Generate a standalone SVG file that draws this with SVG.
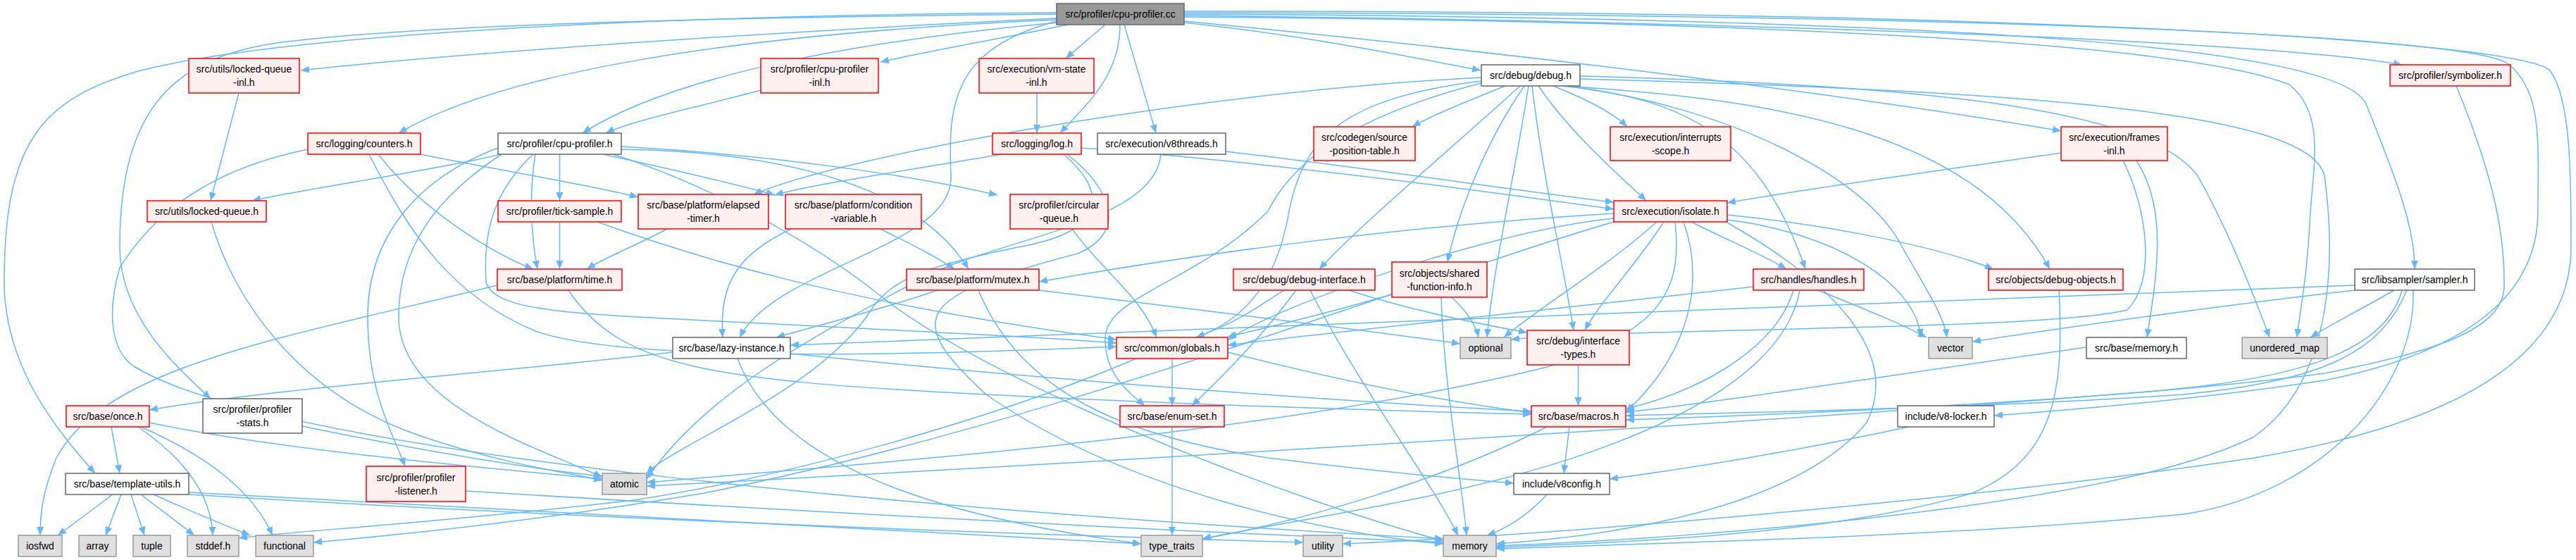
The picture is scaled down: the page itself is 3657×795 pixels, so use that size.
<svg xmlns="http://www.w3.org/2000/svg" width="3657" height="795" viewBox="0 0 3657 795">
<style>
.e{fill:none;stroke:#63b8ff;stroke-width:1.5;marker-end:url(#a)}
.r{fill:#fff0f0;stroke:#ff0000;stroke-width:1.5}
.w{fill:#ffffff;stroke:#666666;stroke-width:1.5}
.g{fill:#e0e0e0;stroke:#999999;stroke-width:1.5}
.k{fill:#999999;stroke:#666666;stroke-width:1.5}
text{font-family:"Liberation Sans",Arial,sans-serif;font-size:14px;fill:#000;text-anchor:middle}
</style>
<defs>
<marker id="a" markerWidth="12" markerHeight="10" refX="12" refY="5" orient="auto" markerUnits="userSpaceOnUse"><path d="M0,0 L12,5 L0,10 z" fill="#63b8ff"/></marker>
</defs>
<rect width="3657" height="795" fill="#ffffff"/>
<g id="edges">
<path class="e" d="M1500,26 C1200,40 700,70 427,100"/>
<path class="e" d="M1500,28 C1000,50 700,110 566,189"/>
<path class="e" d="M1502,32 C1200,60 950,110 827,189"/>
<path class="e" d="M1516,35 C1420,55 1320,72 1250,88"/>
<path class="e" d="M1569,35 L1513,83"/>
<path class="e" d="M1590,35 C1590,110 1540,150 1505,189"/>
<path class="e" d="M1596,35 L1641,189"/>
<path class="e" d="M1681,32 C1850,50 2000,80 2102,100"/>
<path class="e" d="M1681,30 C2100,70 2600,130 2926,186"/>
<path class="e" d="M1681,22 C2400,30 3200,55 3410,92"/>
<path class="e" d="M1681,20 C2700,25 3330,60 3360,150 C3400,250 3428,320 3428,382"/>
<path class="e" d="M1500,20 C1000,25 600,35 400,60 C250,80 170,150 170,350 C170,450 250,520 299,566"/>
<path class="e" d="M1500,18 C900,22 400,50 200,100 C60,140 6,200 6,400 C6,520 80,610 135,672"/>
<path class="e" d="M1500,30 C1350,70 1346,150 1350,250 C1355,350 1100,380 1050,479"/>
<path class="e" d="M1681,24 C2500,30 3100,60 3250,120 C3300,160 3285,230 3280,300 C3275,400 3265,440 3261,479"/>
<path class="e" d="M1681,18 C2800,20 3500,50 3560,90 C3610,130 3603,200 3603,300 C3603,420 3500,500 3300,540 C3100,570 2900,585 2831,590"/>
<path class="e" d="M1681,16 C2900,15 3580,60 3620,100 C3650,140 3650,250 3650,350 C3650,500 3500,600 3200,650 C2800,710 2200,760 1906,772"/>
<path class="e" d="M1080,128 C1000,150 900,170 860,189"/>
<path class="e" d="M1472,132 L1472,189"/>
<path class="e" d="M597,219 C700,240 850,265 906,280"/>
<path class="e" d="M537,219 C600,300 700,360 757,382"/>
<path class="e" d="M524,219 C580,330 640,420 760,470 C900,520 1400,500 1585,492"/>
<path class="e" d="M437,212 C300,240 220,300 170,380 C150,450 160,500 190,520 C400,650 1400,730 2049,765"/>
<path class="e" d="M707,210 C600,250 522,330 522,450 C522,560 560,620 575,662"/>
<path class="e" d="M707,220 C600,245 420,270 358,285"/>
<path class="e" d="M712,219 C620,280 566,350 566,450 C566,580 780,640 855,678"/>
<path class="e" d="M757,219 C690,280 687,350 690,400 C700,440 800,445 1000,455 C1300,470 1500,480 1585,487"/>
<path class="e" d="M760,219 C750,280 755,340 763,382"/>
<path class="e" d="M794.5,219 L794.5,285"/>
<path class="e" d="M857,219 C950,240 1050,262 1100,277"/>
<path class="e" d="M882,208 C1100,220 1300,250 1416,277"/>
<path class="e" d="M882,212 C1100,215 1300,260 1375,382"/>
<path class="e" d="M870,219 C1000,260 1150,340 1250,420 C1400,540 1800,700 2049,768"/>
<path class="e" d="M1422,219 C1300,240 1150,262 1100,277"/>
<path class="e" d="M1535,210 C1800,230 2100,270 2291,297"/>
<path class="e" d="M1510,219 C1580,280 1560,330 1450,350 C1300,380 1260,400 1230,450 C1150,560 960,630 918,672"/>
<path class="e" d="M1515,219 C1580,270 1600,330 1530,360 C1300,420 1280,450 1400,560 C1600,700 1900,760 2049,772"/>
<path class="e" d="M1740,215 C1950,240 2150,270 2291,287"/>
<path class="e" d="M1648,219 C1640,320 1400,340 1300,400 C1150,480 1000,560 918,680"/>
<path class="e" d="M339,132 L299,285"/>
<path class="e" d="M300,315 C330,420 420,560 600,620 C720,660 800,670 855,682"/>
<path class="e" d="M794.5,315 L794.5,382"/>
<path class="e" d="M848,315 C1000,370 1200,430 1585,482"/>
<path class="e" d="M947,325 C900,350 860,365 833,382"/>
<path class="e" d="M1123,325 C1050,360 1020,400 1026,479"/>
<path class="e" d="M1250,325 C1300,350 1330,365 1355,382"/>
<path class="e" d="M1522,325 C1560,380 1620,420 1642,479"/>
<path class="e" d="M706,405 C400,480 150,520 80,650 C60,700 57,730 57,760"/>
<path class="e" d="M807,412 C880,520 1000,540 1400,560 C1800,580 2050,585 2174,588"/>
<path class="e" d="M1331,412 C1250,440 1150,465 1102,479"/>
<path class="e" d="M1475,412 C1700,440 1950,470 2073,488"/>
<path class="e" d="M1389,412 C1450,560 1600,620 1800,650 C2000,675 2100,682 2149,686"/>
<path class="e" d="M2291,303 C2000,320 1700,360 1475,400"/>
<path class="e" d="M2291,310 C2100,330 1800,440 1743,483"/>
<path class="e" d="M2352,315 C2280,380 2180,440 2135,479"/>
<path class="e" d="M2362,315 C2320,380 2270,430 2250,469"/>
<path class="e" d="M2390,315 C2420,400 2400,500 2308,585"/>
<path class="e" d="M2378,315 C2390,420 2350,470 2200,520 C1800,620 1200,660 918,685"/>
<path class="e" d="M2401,315 C2450,340 2500,360 2536,382"/>
<path class="e" d="M2452,305 C2600,320 2750,350 2830,382"/>
<path class="e" d="M2452,312 C2600,330 2720,400 2727,479"/>
<path class="e" d="M2452,316 C2600,400 2700,500 2650,600 C2550,720 2300,760 2124,772"/>
<path class="e" d="M2291,315 C2000,400 1500,600 1000,700 C700,750 500,765 445,770"/>
<path class="e" d="M2103,110 C1700,130 1200,220 1070,276"/>
<path class="e" d="M2103,115 C1900,140 1850,200 1830,300 C1810,420 1750,460 1698,479"/>
<path class="e" d="M2103,118 C1900,170 1830,240 1800,300 C1700,400 1570,420 1569,480 C1568,530 1600,555 1625,576"/>
<path class="e" d="M2137,122 C2080,145 2030,165 2005,180"/>
<path class="e" d="M2158,122 C2050,220 1930,320 1873,382"/>
<path class="e" d="M2164,122 C2110,200 2070,300 2055,372"/>
<path class="e" d="M2170,122 C2150,250 2120,380 2111,479"/>
<path class="e" d="M2175,122 C2190,250 2220,380 2234,469"/>
<path class="e" d="M2184,122 C2230,190 2300,250 2337,285"/>
<path class="e" d="M2205,122 C2250,140 2290,160 2310,180"/>
<path class="e" d="M2217,122 C2400,140 2500,200 2563,382"/>
<path class="e" d="M2220,122 C2500,140 2800,180 2910,382"/>
<path class="e" d="M2222,122 C2450,150 2650,250 2700,350 C2740,420 2760,450 2764,479"/>
<path class="e" d="M2243,108 C2700,120 3050,150 3120,250 C3160,320 3200,420 3222,479"/>
<path class="e" d="M2243,112 C2900,130 3280,160 3300,250 C3320,400 3300,550 3200,620 C3000,720 2400,765 2124,775"/>
<path class="e" d="M1823,412 C1780,440 1750,460 1698,479"/>
<path class="e" d="M1840,412 C1790,480 1730,540 1692,576"/>
<path class="e" d="M1860,412 C1930,550 2030,680 2070,760"/>
<path class="e" d="M1915,412 C2000,440 2100,460 2168,472"/>
<path class="e" d="M2061,422 C2080,440 2095,460 2099,479"/>
<path class="e" d="M2046,422 C2050,550 2075,680 2082,760"/>
<path class="e" d="M1976,418 C1900,440 1800,465 1743,478"/>
<path class="e" d="M2489,407 C2200,440 1900,470 1743,490"/>
<path class="e" d="M2546,412 C2520,500 2400,560 2308,580"/>
<path class="e" d="M2555,412 C2530,550 2300,650 2000,710 C1850,740 1750,755 1707,765"/>
<path class="e" d="M2581,412 C2650,440 2700,460 2735,479"/>
<path class="e" d="M2923,412 C2930,550 2920,650 2800,700 C2600,760 2300,770 2124,777"/>
<path class="e" d="M3343,405 C2800,430 1800,460 1122,490"/>
<path class="e" d="M3343,412 C3100,440 2900,470 2800,485"/>
<path class="e" d="M3399,412 C3350,440 3310,460 3280,479"/>
<path class="e" d="M3417,412 C3380,500 3300,540 3100,560 C2800,580 2500,585 2308,590"/>
<path class="e" d="M3410,412 C3380,520 3200,545 3000,560 C2500,600 1500,660 918,690"/>
<path class="e" d="M3426,412 C3430,550 3300,700 3100,730 C2800,760 2400,770 2124,779"/>
<path class="e" d="M3487,122 C3540,250 3555,330 3555,400 C3560,470 3450,500 3300,530 C3000,570 2500,590 2308,596"/>
<path class="e" d="M2926,217 C2700,250 2550,270 2452,288"/>
<path class="e" d="M3033,228 C3080,300 3060,400 3048,479"/>
<path class="e" d="M3014,228 C3050,300 3060,400 3020,440 C2900,470 2300,465 2145,482"/>
<path class="e" d="M2962,493 C2700,530 2450,570 2308,585"/>
<path class="e" d="M2710,606 C2550,640 2400,665 2285,680"/>
<path class="e" d="M2196,702 C2170,730 2140,750 2111,760"/>
<path class="e" d="M2228,606 L2220,672"/>
<path class="e" d="M2196,606 C2050,680 1850,740 1707,765"/>
<path class="e" d="M2240.5,518 L2240.5,576"/>
<path class="e" d="M1664,509 L1664,576"/>
<path class="e" d="M1743,500 C1900,540 2050,570 2174,586"/>
<path class="e" d="M1613,509 C1400,600 1100,680 900,710 C600,745 400,755 339,764"/>
<path class="e" d="M1664,606 L1664,760"/>
<path class="e" d="M955,500 C700,530 400,550 212,582"/>
<path class="e" d="M1122,502 C1500,540 1900,570 2174,584"/>
<path class="e" d="M1047,509 C1100,650 1300,730 1620,772"/>
<path class="e" d="M158,606 L170,672"/>
<path class="e" d="M196,606 C260,650 300,700 302,760"/>
<path class="e" d="M200,606 C300,650 360,700 387,760"/>
<path class="e" d="M212,600 C400,640 700,665 855,680"/>
<path class="e" d="M429,605 C600,640 750,665 855,676"/>
<path class="e" d="M160,702 L82,760"/>
<path class="e" d="M172,702 L150,760"/>
<path class="e" d="M186,702 L205,760"/>
<path class="e" d="M200,702 L276,760"/>
<path class="e" d="M218,702 C280,730 330,750 355,760"/>
<path class="e" d="M268,699 C800,730 1300,755 1620,772"/>
<path class="e" d="M268,702 C900,740 1500,760 1850,770"/>
<path class="e" d="M661,697 C1200,730 1700,755 2049,770"/>
</g>
<g id="n_root"><rect class="k" x="1500" y="5" width="181" height="30"/><text x="1590.5" y="25">src/profiler/cpu-profiler.cc</text></g>
<g id="n_lqi"><rect class="r" x="268" y="83" width="157" height="49"/><text x="346.5" y="103">src/utils/locked-queue</text><text x="346.5" y="122">-inl.h</text></g>
<g id="n_cpi"><rect class="r" x="1080" y="83" width="167" height="49"/><text x="1163.5" y="103">src/profiler/cpu-profiler</text><text x="1163.5" y="122">-inl.h</text></g>
<g id="n_vsi"><rect class="r" x="1390" y="83" width="163" height="49"/><text x="1471.5" y="103">src/execution/vm-state</text><text x="1471.5" y="122">-inl.h</text></g>
<g id="n_dbg"><rect class="w" x="2103" y="92" width="140" height="30"/><text x="2173" y="112">src/debug/debug.h</text></g>
<g id="n_sym"><rect class="r" x="3393" y="92" width="171" height="30"/><text x="3478.5" y="112">src/profiler/symbolizer.h</text></g>
<g id="n_spt"><rect class="r" x="1865" y="180" width="144" height="48"/><text x="1937" y="199.5">src/codegen/source</text><text x="1937" y="218.5">-position-table.h</text></g>
<g id="n_isc"><rect class="r" x="2286" y="180" width="171" height="48"/><text x="2371.5" y="199.5">src/execution/interrupts</text><text x="2371.5" y="218.5">-scope.h</text></g>
<g id="n_fri"><rect class="r" x="2926" y="180" width="151" height="48"/><text x="3001.5" y="199.5">src/execution/frames</text><text x="3001.5" y="218.5">-inl.h</text></g>
<g id="n_cnt"><rect class="r" x="437" y="189" width="160" height="30"/><text x="517" y="209">src/logging/counters.h</text></g>
<g id="n_cph"><rect class="w" x="707" y="189" width="175" height="30"/><text x="794.5" y="209">src/profiler/cpu-profiler.h</text></g>
<g id="n_log"><rect class="r" x="1409" y="189" width="126" height="30"/><text x="1472" y="209">src/logging/log.h</text></g>
<g id="n_v8t"><rect class="w" x="1558" y="189" width="182" height="30"/><text x="1649" y="209">src/execution/v8threads.h</text></g>
<g id="n_lq"><rect class="r" x="209" y="285" width="169" height="30"/><text x="293.5" y="305">src/utils/locked-queue.h</text></g>
<g id="n_tick"><rect class="r" x="707" y="285" width="175" height="30"/><text x="794.5" y="305">src/profiler/tick-sample.h</text></g>
<g id="n_et"><rect class="r" x="906" y="276" width="185" height="49"/><text x="998.5" y="296">src/base/platform/elapsed</text><text x="998.5" y="315">-timer.h</text></g>
<g id="n_cv"><rect class="r" x="1115" y="276" width="193" height="49"/><text x="1211.5" y="296">src/base/platform/condition</text><text x="1211.5" y="315">-variable.h</text></g>
<g id="n_cq"><rect class="r" x="1434" y="276" width="139" height="49"/><text x="1503.5" y="296">src/profiler/circular</text><text x="1503.5" y="315">-queue.h</text></g>
<g id="n_iso"><rect class="r" x="2291" y="285" width="161" height="30"/><text x="2371.5" y="305">src/execution/isolate.h</text></g>
<g id="n_time"><rect class="r" x="706" y="382" width="177" height="30"/><text x="794.5" y="402">src/base/platform/time.h</text></g>
<g id="n_mutex"><rect class="r" x="1287" y="382" width="188" height="30"/><text x="1381" y="402">src/base/platform/mutex.h</text></g>
<g id="n_dbi"><rect class="r" x="1751" y="382" width="201" height="30"/><text x="1851.5" y="402">src/debug/debug-interface.h</text></g>
<g id="n_sfi"><rect class="r" x="1976" y="372" width="135" height="50"/><text x="2043.5" y="392.5">src/objects/shared</text><text x="2043.5" y="411.5">-function-info.h</text></g>
<g id="n_hdl"><rect class="r" x="2489" y="382" width="157" height="30"/><text x="2567.5" y="402">src/handles/handles.h</text></g>
<g id="n_dbo"><rect class="r" x="2823" y="382" width="191" height="30"/><text x="2918.5" y="402">src/objects/debug-objects.h</text></g>
<g id="n_smp"><rect class="w" x="3343" y="382" width="170" height="30"/><text x="3428" y="402">src/libsampler/sampler.h</text></g>
<g id="n_lazy"><rect class="w" x="955" y="479" width="167" height="30"/><text x="1038.5" y="499">src/base/lazy-instance.h</text></g>
<g id="n_glob"><rect class="r" x="1585" y="479" width="158" height="30"/><text x="1664" y="499">src/common/globals.h</text></g>
<g id="n_opt"><rect class="g" x="2073" y="479" width="72" height="30"/><text x="2109" y="499">optional</text></g>
<g id="n_ift"><rect class="r" x="2168" y="469" width="145" height="49"/><text x="2240.5" y="489">src/debug/interface</text><text x="2240.5" y="508">-types.h</text></g>
<g id="n_vec"><rect class="g" x="2738" y="479" width="62" height="30"/><text x="2769" y="499">vector</text></g>
<g id="n_memh"><rect class="w" x="2962" y="479" width="142" height="30"/><text x="3033" y="499">src/base/memory.h</text></g>
<g id="n_umap"><rect class="g" x="3183" y="479" width="121" height="30"/><text x="3243.5" y="499">unordered_map</text></g>
<g id="n_once"><rect class="r" x="94" y="576" width="118" height="30"/><text x="153" y="596">src/base/once.h</text></g>
<g id="n_pst"><rect class="w" x="288" y="566" width="141" height="49"/><text x="358.5" y="586">src/profiler/profiler</text><text x="358.5" y="605">-stats.h</text></g>
<g id="n_enum"><rect class="r" x="1590" y="576" width="148" height="30"/><text x="1664" y="596">src/base/enum-set.h</text></g>
<g id="n_mac"><rect class="r" x="2174" y="576" width="134" height="30"/><text x="2241" y="596">src/base/macros.h</text></g>
<g id="n_lock"><rect class="w" x="2694" y="576" width="137" height="30"/><text x="2762.5" y="596">include/v8-locker.h</text></g>
<g id="n_tu"><rect class="w" x="93" y="672" width="175" height="30"/><text x="180.5" y="692">src/base/template-utils.h</text></g>
<g id="n_pl"><rect class="r" x="520" y="662" width="141" height="50"/><text x="590.5" y="682.5">src/profiler/profiler</text><text x="590.5" y="701.5">-listener.h</text></g>
<g id="n_atomic"><rect class="g" x="855" y="672" width="63" height="30"/><text x="886.5" y="692">atomic</text></g>
<g id="n_v8c"><rect class="w" x="2149" y="672" width="136" height="30"/><text x="2217" y="692">include/v8config.h</text></g>
<g id="n_iosfwd"><rect class="g" x="26" y="760" width="62" height="30"/><text x="57" y="780">iosfwd</text></g>
<g id="n_array"><rect class="g" x="112" y="760" width="53" height="30"/><text x="138.5" y="780">array</text></g>
<g id="n_tuple"><rect class="g" x="189" y="760" width="53" height="30"/><text x="215.5" y="780">tuple</text></g>
<g id="n_stddef"><rect class="g" x="266" y="760" width="73" height="30"/><text x="302.5" y="780">stddef.h</text></g>
<g id="n_functional"><rect class="g" x="363" y="760" width="82" height="30"/><text x="404" y="780">functional</text></g>
<g id="n_tt"><rect class="g" x="1620" y="760" width="87" height="30"/><text x="1663.5" y="780">type_traits</text></g>
<g id="n_utility"><rect class="g" x="1850" y="760" width="56" height="30"/><text x="1878" y="780">utility</text></g>
<g id="n_memory"><rect class="g" x="2049" y="760" width="75" height="30"/><text x="2086.5" y="780">memory</text></g>
</svg>
